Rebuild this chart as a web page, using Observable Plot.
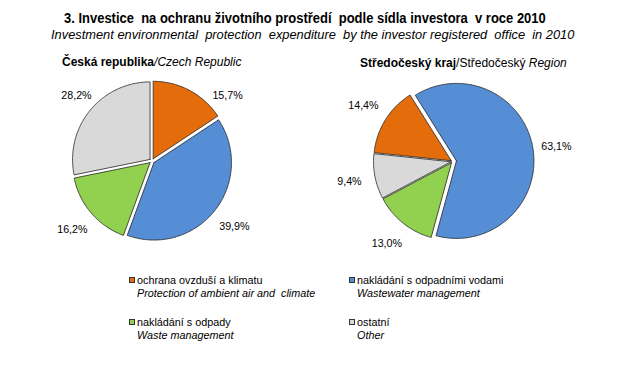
<!DOCTYPE html>
<html>
<head>
<meta charset="utf-8">
<script src="https://cdn.jsdelivr.net/npm/d3@7"></script>
<script src="https://cdn.jsdelivr.net/npm/@observablehq/plot@0.6"></script>
<style>
  body { margin: 0; background: #fff; }
  #wrap { position: relative; width: 622px; height: 383px; overflow: hidden; font-family: Arial, "Liberation Sans", sans-serif; color: #000; }
  .abs { position: absolute; white-space: pre; line-height: 1; }
  #title { font-family: Arial, "Liberation Sans", sans-serif; font-weight: bold; font-size: 14.5px; transform: scaleX(0.895); transform-origin: 0 0; }
  #subtitle { font-style: italic; font-size: 12.85px; }
  .ptitle { font-size: 12px; }
  .leg { font-size: 10.8px; }
  .sw { position: absolute; width: 4px; height: 4px; border: 1px solid #333; }
  #chart { position: absolute; left: 0; top: 40px; }
</style>
</head>
<body>
<div id="wrap">
  <div id="title" class="abs"></div>
  <div id="subtitle" class="abs"></div>
  <div id="pt1" class="abs ptitle"></div>
  <div id="pt2" class="abs ptitle"></div>
  <div id="chart"></div>
  <div id="legend"></div>
</div>
<script>
// ---- data ----
const titleText = "3. Investice  na ochranu životního prostředí  podle sídla investora  v roce 2010";
const subtitleText = "Investment environmental  protection  expenditure  by the investor registered  office  in 2010";
const categoriesCz = ["ochrana ovzduší a klimatu", "nakládání s odpadními vodami", "nakládání s odpady", "ostatní"];
const categoriesEn = ["Protection of ambient air and  climate", "Wastewater management", "Waste management", "Other"];
const czechRepublicValues = [15.7, 39.9, 16.2, 28.2];
const stredoceskyValues = [14.4, 63.1, 13.0, 9.4];

// ---- styles / layout ----
const colors = ["#E46C0A", "#558ED5", "#92D050", "#D9D9D9"];
const W = 622, H = 220, TOP = 40;
const pies = [
  {values: czechRepublicValues, cx: 151.5, cy: 160.5, r: 77.5, start: 0, explode: [2.5, 2.5, 2.5, 2.5]},
  {values: stredoceskyValues, cx: 452, cy: 161, r: 77.5, start: 276, explode: [1.5, 4, 1.5, 1.5]}
];

const rad = d => d * Math.PI / 180;
const slicePts = [];
const labels = [];
pies.forEach((p, pi) => {
  const total = d3.sum(p.values);
  let a = p.start;
  p.values.forEach((v, i) => {
    const span = v / total * 360;
    const a0 = a, a1 = a + span, mid = a + span / 2;
    const ox = p.explode[i] * Math.sin(rad(mid)), oy = -p.explode[i] * Math.cos(rad(mid));
    const key = pi + "-" + i;
    const pts = [{x: p.cx + ox, y: p.cy + oy}];
    const n = Math.max(2, Math.ceil(span));
    for (let k = 0; k <= n; k++) {
      const t = a0 + (a1 - a0) * k / n;
      pts.push({x: p.cx + ox + p.r * Math.sin(rad(t)), y: p.cy + oy - p.r * Math.cos(rad(t))});
    }
    pts.push({x: p.cx + ox, y: p.cy + oy});
    pts.forEach(q => slicePts.push({...q, key, color: colors[i]}));
    // label placement: at mid angle, outside the pie; keep away from the title zone
    let lx = p.cx + 105 * Math.sin(rad(mid));
    let ly = p.cy - 105 * Math.cos(rad(mid));
    const minY = p.cy - p.r + 12;
    if (ly < minY) {
      ly = minY;
      const dy = ly - p.cy;
      const dx = Math.sqrt(100 * 100 - dy * dy);
      lx = p.cx + Math.sign(Math.sin(rad(mid))) * dx;
    }
    labels.push({x: lx, y: ly, text: v.toFixed(1).replace(".", ",") + "%"});
    a = a1;
  });
});

const marks = [];
d3.groups(slicePts, d => d.key).forEach(([key, pts]) => {
  marks.push(Plot.line(pts, {x: "x", y: "y", fill: pts[0].color, stroke: "#262626", strokeWidth: 0.8, curve: "linear"}));
});
marks.push(Plot.text(labels, {x: "x", y: "y", text: "text", fontSize: 10.7, fill: "#000", fontFamily: "Arial, 'Liberation Sans', sans-serif"}));

const chart = Plot.plot({
  width: W, height: H,
  margin: 0,
  x: {type: "linear", domain: [0, W], range: [0, W], axis: null},
  y: {type: "linear", domain: [TOP, TOP + H], range: [0, H], axis: null},
  style: {background: "transparent"},
  marks
});
document.getElementById("chart").appendChild(chart);

// ---- texts ----
const t = document.getElementById("title");
t.textContent = titleText; t.style.left = "64px"; t.style.top = "11px";
const s = document.getElementById("subtitle");
s.textContent = subtitleText; s.style.left = "51px"; s.style.top = "29px";

const pt1 = document.getElementById("pt1");
pt1.innerHTML = "<b>Česká republika</b><i>/Czech Republic</i>";
pt1.style.left = "62px"; pt1.style.top = "56px";
const pt2 = document.getElementById("pt2");
pt2.innerHTML = "<b>Středočeský kraj</b>/Středočeský <i>Region</i>";
pt2.style.left = "360px"; pt2.style.top = "57px";

// ---- legend ----
const leg = document.getElementById("legend");
const legPos = [[129, 275], [349, 275], [129, 317], [349, 317]];
categoriesCz.forEach((c, i) => {
  const [lx, ly] = legPos[i];
  const sw = document.createElement("div");
  sw.className = "sw"; sw.style.background = colors[i];
  sw.style.left = lx + "px"; sw.style.top = (ly + 2) + "px";
  leg.appendChild(sw);
  const l1 = document.createElement("div");
  l1.className = "abs leg"; l1.textContent = c;
  l1.style.left = (lx + 8) + "px"; l1.style.top = ly + "px";
  leg.appendChild(l1);
  const l2 = document.createElement("div");
  l2.className = "abs leg"; l2.style.fontStyle = "italic"; l2.textContent = categoriesEn[i];
  l2.style.left = (lx + 8) + "px"; l2.style.top = (ly + 13) + "px";
  leg.appendChild(l2);
});
</script>
</body>
</html>
